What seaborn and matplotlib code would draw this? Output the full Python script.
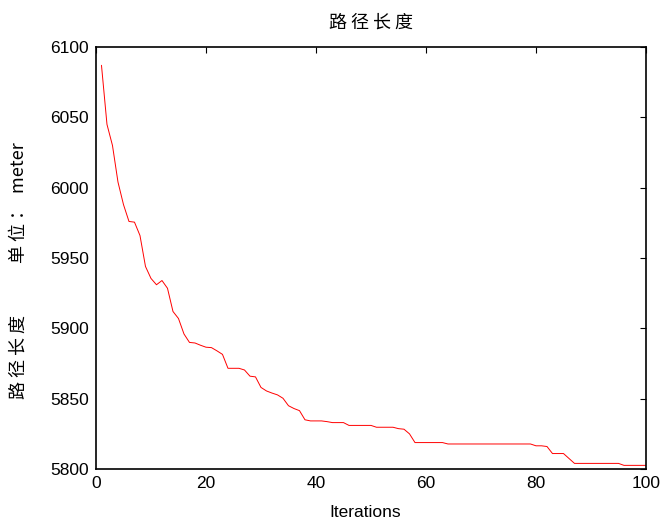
import matplotlib
matplotlib.use("Agg")
import matplotlib.pyplot as plt
import seaborn as sns
import pandas as pd

# Best route length found at each iteration
iterations = list(range(1, 101))
path_length = [
    6087, 6045, 6030, 6004, 5988, 5976, 5975.5, 5966, 5944, 5935.5,
    5931, 5934, 5928.5, 5912, 5907, 5896, 5890, 5889.6, 5888, 5886.6,
    5886.3, 5884, 5881.5, 5871.6, 5871.6, 5871.6, 5870.4, 5866, 5865.5, 5858,
    5855.5, 5854, 5852.7, 5850.3, 5845, 5843, 5841.5, 5835, 5834.2, 5834.2,
    5834.2, 5833.7, 5833, 5833, 5833, 5831, 5831, 5831, 5831, 5831,
    5829.7, 5829.7, 5829.7, 5829.7, 5828.7, 5828.3, 5825, 5818.8, 5818.8, 5818.8,
    5818.8, 5818.8, 5818.8, 5817.8, 5817.8, 5817.8, 5817.8, 5817.8, 5817.8, 5817.8,
    5817.8, 5817.8, 5817.8, 5817.8, 5817.8, 5817.8, 5817.8, 5817.8, 5817.8, 5816.5,
    5816.5, 5816, 5811, 5811, 5811, 5807.5, 5804, 5804, 5804, 5804,
    5804, 5804, 5804, 5804, 5804, 5802.6, 5802.6, 5802.6, 5802.6, 5802.6,
]
x_ticks = [0, 20, 40, 60, 80, 100]
y_ticks = [5800, 5850, 5900, 5950, 6000, 6050, 6100]

sns.set_style("white")
plt.rcParams["font.family"] = ["Liberation Sans", "Noto Sans CJK SC", "DejaVu Sans"]

df = pd.DataFrame({"Iterations": iterations, "length": path_length})

fig = plt.figure(figsize=(6.61, 5.19), dpi=100)
ax = fig.add_axes([0.1452, 0.0963, 0.8321, 0.8131])

sns.lineplot(data=df, x="Iterations", y="length", ax=ax, color="#ff0000",
             linewidth=0.7)

ax.set_xlim(0, 100)
ax.set_ylim(5800, 6100)
ax.set_xticks(x_ticks)
ax.set_yticks(y_ticks)
ax.tick_params(direction="in", length=4, width=0.8, top=True, right=True,
               labelsize=12.5, colors="black", pad=5)
for s in ax.spines.values():
    s.set_color("black")
    s.set_linewidth(1.2)

cjk = ["Noto Sans CJK SC", "DejaVu Sans"]
ax.set_title("路 径 长 度", fontsize=13, family=cjk, pad=14, color="black")
ax.set_xlabel("Iterations", fontsize=12.5, color="black")
ax.xaxis.set_label_coords(0.49, -0.085)
ax.set_ylabel("路 径 长 度             单 位 ：  meter", fontsize=13, family=cjk,
              color="black")
ax.yaxis.set_label_coords(-0.124, 0.47)

fig.savefig("out.png", dpi=100)
